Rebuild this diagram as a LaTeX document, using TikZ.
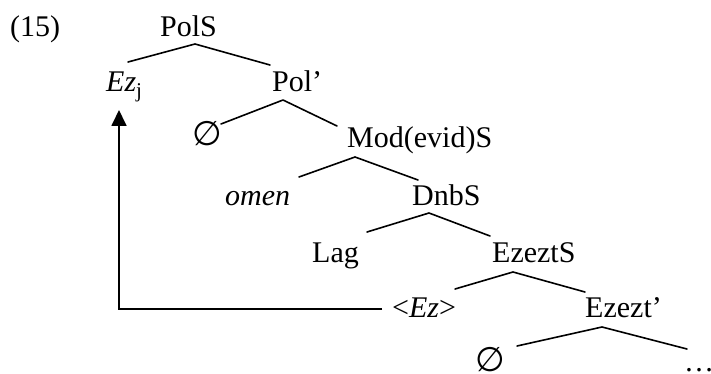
\documentclass[tikz,border=0pt]{standalone}
\usepackage{fontspec}
\setmainfont{Liberation Serif}
\newfontfamily\symfont{DejaVu Sans}
\usetikzlibrary{arrows.meta}
\begin{document}
\begin{tikzpicture}[x=1pt,y=-1pt,
  lab/.style={anchor=base west,inner sep=0pt,font=\fontsize{30}{36}\selectfont},
  emptyset/.style={anchor=base west,inner sep=0pt,font=\symfont\fontsize{34}{40}\selectfont},
  branch/.style={line width=1.6pt,line cap=round,line join=round},
  movearrow/.style={line width=1.8pt,-{Triangle[width=15pt,length=16pt]}}]
\useasboundingbox (0,0) rectangle (711,374);
% labels
\node[lab] (ex) at (10,37) {(15)};
\node[lab] (PolS) at (160,37) {PolS};
\node[lab] (Ezj) at (106,92) {\textit{Ez}\textsubscript{j}};
\node[lab] (Polb) at (272,92) {Pol’};
\node[emptyset] (null1) at (192,146) {∅};
\node[lab] (ModS) at (347,148) {Mod(evid)S};
\node[lab] (omen) at (225,205) {\textit{omen}};
\node[lab] (DnbS) at (412,205) {DnbS};
\node[lab] (Lag) at (312,262) {Lag};
\node[lab] (EzeztS) at (492,262) {EzeztS};
\node[lab] (trace) at (392,317) {<\textit{Ez}>};
\node[lab] (Ezeztb) at (585,317) {Ezezt’};
\node[emptyset] (null2) at (475,371) {∅};
\node[lab] (dots) at (684,371) {…};
% branch points
\coordinate (a1) at (195,44);  \coordinate (l1) at (128,62);  \coordinate (r1) at (270,65);
\coordinate (a2) at (283,100); \coordinate (l2) at (221,124); \coordinate (r2) at (337,126);
\coordinate (a3) at (355,157); \coordinate (l3) at (299,177); \coordinate (r3) at (418,180);
\coordinate (a4) at (429,213); \coordinate (l4) at (367,232); \coordinate (r4) at (490,236);
\coordinate (a5) at (513,272); \coordinate (l5) at (455,289); \coordinate (r5) at (585,292);
\coordinate (a6) at (602,327); \coordinate (l6) at (517,346); \coordinate (r6) at (687,349);
\draw[branch] (l1) -- (a1) -- (r1);
\draw[branch] (l2) -- (a2) -- (r2);
\draw[branch] (l3) -- (a3) -- (r3);
\draw[branch] (l4) -- (a4) -- (r4);
\draw[branch] (l5) -- (a5) -- (r5);
\draw[branch] (l6) -- (a6) -- (r6);
% movement arrow
\coordinate (mstart) at (382,309);
\coordinate (mcorner) at (119,309);
\coordinate (mtip) at (119,110);
\draw[movearrow] (mstart) -- (mcorner) -- (mtip);
\end{tikzpicture}
\end{document}
